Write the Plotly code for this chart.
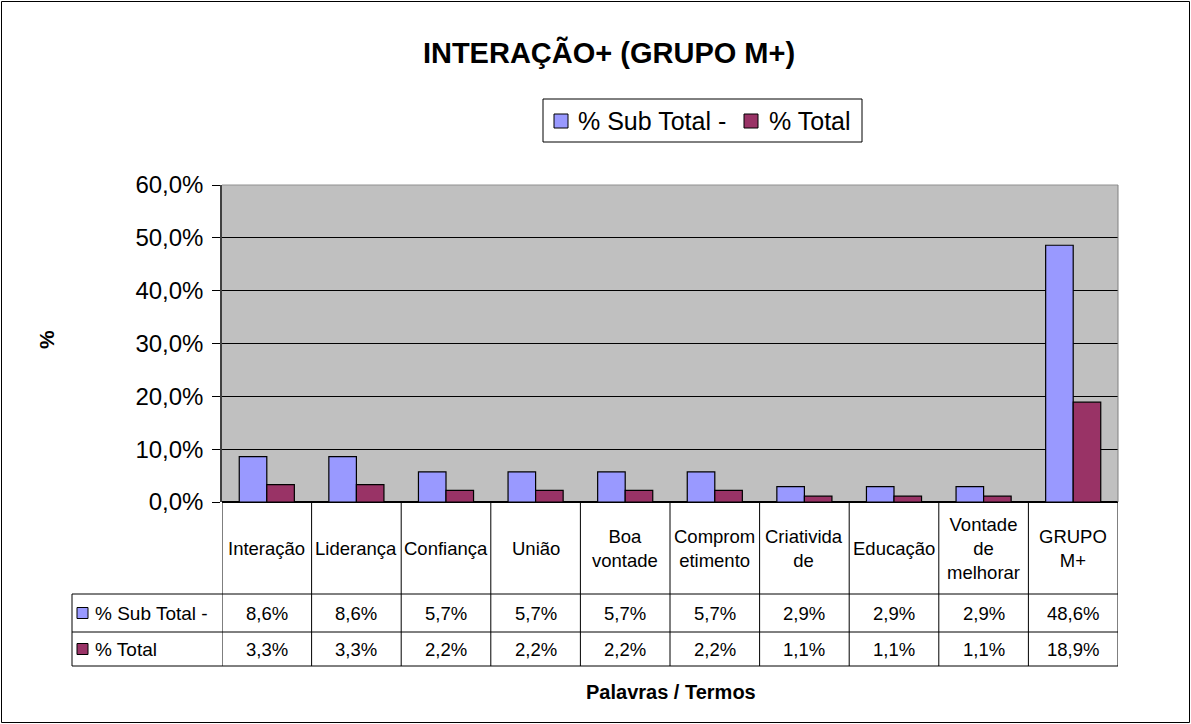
import plotly.graph_objects as go

categories = ["Interação", "Liderança", "Confiança", "União", "Boa<br>vontade",
              "Comprom<br>etimento", "Criativida<br>de", "Educação",
              "Vontade<br>de<br>melhorar", "GRUPO<br>M+"]
series_names = ["% Sub Total -", "% Total"]
sub_total = [0.086, 0.086, 0.057, 0.057, 0.057, 0.057, 0.029, 0.029, 0.029, 0.486]
total = [0.033, 0.033, 0.022, 0.022, 0.022, 0.022, 0.011, 0.011, 0.011, 0.189]
series_values = [sub_total, total]
colors = ["#9999FF", "#993366"]

W, H = 1191, 724
FONT = "Arial, 'Liberation Sans', sans-serif"

def px(x):
    return x / W

def py(y):
    return 1 - y / H

plot_left, plot_right = 222, 1118
plot_top, plot_bottom = 185, 502
header_bottom, row1_bottom, row2_bottom = 594, 632, 666
label_left = 72

fig = go.Figure()
xs = list(range(len(categories)))
for name, vals, col in zip(series_names, series_values, colors):
    fig.add_trace(go.Bar(x=xs, y=vals, name=name, showlegend=False,
                         marker=dict(color=col, line=dict(color="black", width=1.2))))

shapes = []
annotations = []
n = len(categories)
# vertical column lines in table
for i in range(n + 1):
    shapes.append(dict(type="line", xref="x", yref="paper", x0=i - 0.5, x1=i - 0.5,
                       y0=py(plot_bottom), y1=py(row2_bottom),
                       line=dict(color="black", width=1)))
# horizontal lines
for yy in (header_bottom, row1_bottom, row2_bottom):
    shapes.append(dict(type="line", xref="paper", yref="paper", x0=px(label_left), x1=px(plot_right),
                       y0=py(yy), y1=py(yy), line=dict(color="black", width=1)))
shapes.append(dict(type="line", xref="paper", yref="paper", x0=px(label_left), x1=px(label_left),
                   y0=py(header_bottom), y1=py(row2_bottom), line=dict(color="black", width=1)))
# outer chart border
shapes.append(dict(type="rect", xref="paper", yref="paper", x0=px(1.5), x1=px(W - 1.5),
                   y0=py(H - 1.5), y1=py(1.5), line=dict(color="black", width=1)))
# plot area top/right border
shapes.append(dict(type="line", xref="paper", yref="paper", x0=px(plot_left), x1=px(plot_right),
                   y0=py(plot_top), y1=py(plot_top), line=dict(color="#909090", width=1)))
shapes.append(dict(type="line", xref="paper", yref="paper", x0=px(plot_right), x1=px(plot_right),
                   y0=py(plot_top), y1=py(plot_bottom), line=dict(color="#808080", width=1)))

# header labels
for i, c in enumerate(categories):
    annotations.append(dict(xref="x", yref="paper", x=i, y=py((plot_bottom + header_bottom) / 2),
                            text=c, showarrow=False, xanchor="center", yanchor="middle",
                            font=dict(family=FONT, size=18.5, color="black")))

row_centers = [(header_bottom + row1_bottom) / 2, (row1_bottom + row2_bottom) / 2]
for r, (name, vals, col) in enumerate(zip(series_names, series_values, colors)):
    yc = row_centers[r]
    for i, v in enumerate(vals):
        annotations.append(dict(xref="x", yref="paper", x=i, y=py(yc),
                                text=f"{v*100:.1f}%".replace(".", ","), showarrow=False,
                                xanchor="center", yanchor="middle",
                                font=dict(family=FONT, size=18.5, color="black")))
    shapes.append(dict(type="rect", xref="paper", yref="paper", x0=px(77), x1=px(88),
                       y0=py(yc + 5.5), y1=py(yc - 5.5), fillcolor=col,
                       line=dict(color="black", width=1)))
    annotations.append(dict(xref="paper", yref="paper", x=px(93), y=py(yc),
                            text=name, showarrow=False, xanchor="left", yanchor="middle",
                            font=dict(family=FONT, size=19, color="black")))

# manual legend
shapes.append(dict(type="rect", xref="paper", yref="paper", x0=px(543), x1=px(862),
                   y0=py(142), y1=py(99), fillcolor="white", line=dict(color="black", width=1)))
legend_sq = [(554, 568), (744, 758)]
legend_tx = [576, 767]
for (s0, s1), tx, name, col in zip(legend_sq, legend_tx, series_names, colors):
    shapes.append(dict(type="rect", xref="paper", yref="paper", x0=px(s0), x1=px(s1),
                       y0=py(128), y1=py(114), fillcolor=col, line=dict(color="black", width=1)))
    annotations.append(dict(xref="paper", yref="paper", x=px(tx), y=py(121), text=name,
                            showarrow=False, xanchor="left", yanchor="middle",
                            font=dict(family=FONT, size=25, color="black")))

# axis titles
annotations.append(dict(xref="paper", yref="paper", x=px(671), y=py(692), text="<b>Palavras / Termos</b>",
                        showarrow=False, xanchor="center", yanchor="middle",
                        font=dict(family=FONT, size=20, color="black")))
annotations.append(dict(xref="paper", yref="paper", x=px(46), y=py(340), text="<b>%</b>",
                        showarrow=False, xanchor="center", yanchor="middle", textangle=-90,
                        font=dict(family=FONT, size=21, color="black")))

fig.update_layout(
    width=W, height=H,
    margin=dict(l=0, r=0, t=0, b=0, pad=0),
    paper_bgcolor="white",
    plot_bgcolor="#C0C0C0",
    separators=",.",
    barmode="group",
    bargap=0.385,
    bargroupgap=0,
    showlegend=False,
    title=dict(text="<b>INTERAÇÃO+ (GRUPO M+)</b>", x=px(609), xanchor="center",
               y=py(53), yanchor="middle", automargin=False,
               font=dict(family=FONT, size=29, color="black")),
    xaxis=dict(domain=[px(plot_left), px(plot_right)], range=[-0.5, n - 0.5],
               showticklabels=False, showgrid=False, zeroline=False, automargin=False,
               showline=False, ticks=""),
    yaxis=dict(domain=[py(plot_bottom), py(plot_top)], range=[0, 0.6], dtick=0.1,
               tickformat=".1%", showgrid=True, gridcolor="black", gridwidth=1,
               showline=True, linecolor="#404040", linewidth=1.5, automargin=False,
               ticks="outside", ticklen=8, tickcolor="black", ticklabelstandoff=4,
               zeroline=True, zerolinecolor="black", zerolinewidth=1.5,
               tickfont=dict(family=FONT, size=24, color="black")),
    shapes=shapes,
    annotations=annotations,
)

fig.write_html("out.html", config={"displayModeBar": False},
               post_script="document.body.style.margin='0';document.body.style.overflow='hidden';")
